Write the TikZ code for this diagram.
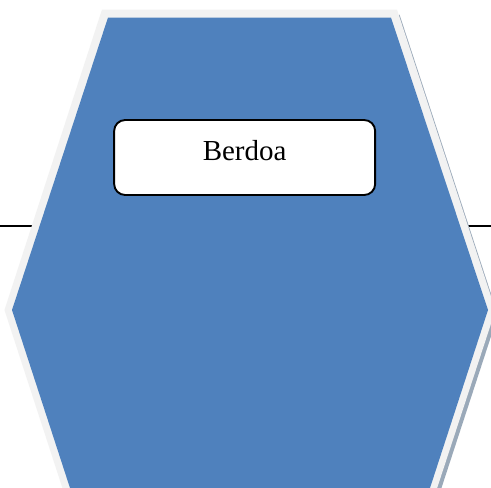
\documentclass[tikz,border=0pt]{standalone}
\usepackage{fontspec}
\setmainfont{Liberation Serif}
\definecolor{hexblue}{HTML}{4F81BD}
\definecolor{hexrim}{HTML}{F2F2F2}
\definecolor{hexshadow}{HTML}{9AA9B9}
\tikzset{
  lead/.style={draw=black,line width=1.6pt},
  namebox/.style={draw=black,fill=white,line width=1.9pt,rounded corners=11pt,
    minimum width=261pt,inner sep=0pt,outer sep=0pt,text height=40pt,text depth=35pt,
    font=\fontsize{29}{34}\selectfont,text=black}
}
\begin{document}
\begin{tikzpicture}[x=1pt,y=-1pt]
\useasboundingbox (0,0) rectangle (491,488);
\clip (0,0) rectangle (491,488);
\fill[white] (0,0) rectangle (491,488);
% free ends of the two short lines
\coordinate (leftfree) at (0,225.8);
\coordinate (leftend) at (32,225.8);
\coordinate (rightend) at (467,225.8);
\coordinate (rightfree) at (491,225.8);
\draw[lead] (leftfree) -- (leftend);
\draw[lead] (rightend) -- (rightfree);
% shadow
\fill[hexshadow] (399.5,14.5) -- (498,315) -- (431,520) -- (80,520) -- cycle;
% rim
\fill[hexrim] (102,9.5) -- (397,9.5) -- (495.5,310) -- (426,522) -- (73.5,522) -- (4.5,310) -- cycle;
% body
\fill[hexblue] (108,17.5) -- (391,17.5) -- (488,310) -- (430,488) -- (70,488) -- (12,310) -- cycle;
\node[namebox] (box) at (244.65,157.5) {Berdoa};
\end{tikzpicture}
\end{document}
